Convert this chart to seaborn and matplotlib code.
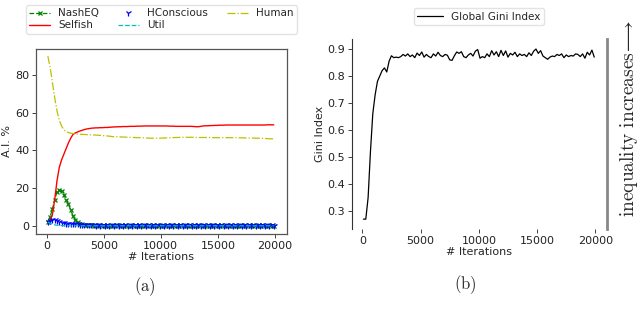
import numpy as np
import pandas as pd
import matplotlib
matplotlib.use("Agg")
import matplotlib.pyplot as plt
import seaborn as sns

sns.set_style("white")
plt.rcParams['font.family'] = ['DejaVu Sans']
plt.rcParams['mathtext.fontset'] = 'cm'

iterations = list(range(100, 20000, 200))

nash_eq = [2.3, 5, 9, 14, 18, 19, 18.5, 16.5, 14, 11.5,
           8.5, 5.5, 3.2, 2, 1.3, 1, 0.7, 0.5, 0.3, 0.3,
           0.2, 0.3, 0.2, 0.3, 0.2, 0.2, 0.3, 0.2, 0.2, 0.3,
           0.2, 0.3, 0.2, 0.2, 0.3, 0.2, 0.2, 0.3, 0.2, 0.2,
           0.3, 0.2, 0.2, 0.3, 0.2, 0.2, 0.3, 0.2, 0.2, 0.3,
           0.2, 0.2, 0.3, 0.2, 0.2, 0.3, 0.2, 0.2, 0.3, 0.2,
           0.2, 0.3, 0.2, 0.2, 0.3, 0.2, 0.2, 0.3, 0.2, 0.2,
           0.3, 0.2, 0.2, 0.3, 0.2, 0.2, 0.3, 0.2, 0.2, 0.3,
           0.2, 0.2, 0.3, 0.2, 0.2, 0.3, 0.2, 0.2, 0.3, 0.2,
           0.2, 0.3, 0.2, 0.2, 0.3, 0.2, 0.2, 0.3, 0.2, 0.2]

selfish = [2, 3, 6, 14, 24, 31, 35, 38, 41, 44,
           46.5, 48.5, 49.3, 49.8, 50.3, 50.7, 51.1, 51.4, 51.6, 51.8,
           51.9, 52.0, 52.0, 52.1, 52.1, 52.2, 52.2, 52.3, 52.4, 52.5,
           52.5, 52.6, 52.6, 52.7, 52.7, 52.7, 52.8, 52.8, 52.8, 52.9,
           52.9, 52.9, 53.0, 53.0, 53.0, 53.0, 53.0, 53.0, 53.0, 53.0,
           53.0, 53.0, 53.0, 52.9, 52.9, 52.9, 52.8, 52.8, 52.8, 52.8,
           52.8, 52.8, 52.8, 52.8, 52.7, 52.6, 52.6, 52.8, 53.0, 53.1,
           53.1, 53.2, 53.2, 53.3, 53.3, 53.4, 53.4, 53.4, 53.5, 53.5,
           53.5, 53.5, 53.5, 53.5, 53.5, 53.5, 53.5, 53.5, 53.5, 53.5,
           53.5, 53.5, 53.5, 53.5, 53.5, 53.5, 53.6, 53.6, 53.6, 53.6]

h_conscious = [2, 2.8, 3.4, 3.2, 2.6, 2.1, 1.7, 1.5, 1.3, 1.2,
               1.1, 1.0, 0.9, 0.8, 0.7, 0.6, 0.5, 0.4, 0.3, 0.3,
               0.3, 0.2, 0.3, 0.2, 0.3, 0.2, 0.3, 0.2, 0.3, 0.2,
               0.3, 0.2, 0.3, 0.2, 0.3, 0.2, 0.3, 0.2, 0.3, 0.2,
               0.3, 0.2, 0.3, 0.2, 0.3, 0.2, 0.3, 0.2, 0.3, 0.2,
               0.3, 0.2, 0.3, 0.2, 0.3, 0.2, 0.3, 0.2, 0.3, 0.2,
               0.3, 0.2, 0.3, 0.2, 0.3, 0.2, 0.3, 0.2, 0.3, 0.2,
               0.3, 0.2, 0.3, 0.2, 0.3, 0.2, 0.3, 0.2, 0.3, 0.2,
               0.3, 0.2, 0.3, 0.2, 0.3, 0.2, 0.3, 0.2, 0.3, 0.2,
               0.3, 0.2, 0.3, 0.2, 0.3, 0.2, 0.3, 0.2, 0.3, 0.2]

util = [2, 1.5, 0.9, 0.6, 0.4, 0.3, 0.2, 0.2, 0.2, 0.1,
        0.1, 0.1, 0.1, 0.1, 0.1, 0.1, 0.1, 0.1, 0.1, 0.1,
        0.1, 0.1, 0.1, 0.1, 0.1, 0.1, 0.1, 0.1, 0.1, 0.1,
        0.1, 0.1, 0.1, 0.1, 0.1, 0.1, 0.1, 0.1, 0.1, 0.1,
        0.1, 0.1, 0.1, 0.1, 0.1, 0.1, 0.1, 0.1, 0.1, 0.1,
        0.1, 0.1, 0.1, 0.1, 0.1, 0.1, 0.1, 0.1, 0.1, 0.1,
        0.1, 0.1, 0.1, 0.1, 0.1, 0.1, 0.1, 0.1, 0.1, 0.1,
        0.1, 0.1, 0.1, 0.1, 0.1, 0.1, 0.1, 0.1, 0.1, 0.1,
        0.1, 0.1, 0.1, 0.1, 0.1, 0.1, 0.1, 0.1, 0.1, 0.1,
        0.1, 0.1, 0.1, 0.1, 0.1, 0.1, 0.1, 0.1, 0.1, 0.1]

human = [90, 84, 76, 68, 61, 56, 53, 51, 50, 49.5,
         49.2, 49.0, 48.8, 48.7, 48.6, 48.5, 48.5, 48.4, 48.3, 48.3,
         48.2, 48.2, 48.1, 48.0, 47.9, 47.8, 47.7, 47.6, 47.4, 47.3,
         47.3, 47.2, 47.2, 47.1, 47.1, 47.0, 47.0, 46.9, 46.9, 46.8,
         46.8, 46.7, 46.7, 46.6, 46.6, 46.5, 46.5, 46.5, 46.5, 46.5,
         46.6, 46.6, 46.7, 46.7, 46.8, 46.8, 46.9, 46.9, 47.0, 47.0,
         47.0, 47.0, 47.0, 47.0, 47.0, 46.9, 46.9, 46.9, 46.9, 46.9,
         46.9, 46.9, 46.8, 46.8, 46.8, 46.8, 46.8, 46.8, 46.8, 46.8,
         46.8, 46.8, 46.8, 46.7, 46.7, 46.7, 46.7, 46.6, 46.6, 46.6,
         46.6, 46.5, 46.5, 46.5, 46.4, 46.4, 46.3, 46.2, 46.2, 46.1]

gini = [0.27, 0.27, 0.35, 0.52, 0.66, 0.73, 0.78, 0.80, 0.82, 0.83,
        0.815, 0.855, 0.875, 0.868, 0.87, 0.868, 0.872, 0.88, 0.874, 0.882,
        0.872, 0.878, 0.868, 0.885, 0.876, 0.889, 0.87, 0.88, 0.872, 0.868,
        0.882, 0.874, 0.888, 0.876, 0.872, 0.88, 0.877, 0.86, 0.858, 0.875,
        0.889, 0.884, 0.89, 0.872, 0.868, 0.878, 0.884, 0.874, 0.892, 0.898,
        0.866, 0.872, 0.868, 0.882, 0.872, 0.894, 0.878, 0.89, 0.872, 0.895,
        0.876, 0.893, 0.87, 0.884, 0.878, 0.888, 0.872, 0.882, 0.876, 0.88,
        0.872, 0.886, 0.876, 0.892, 0.9, 0.884, 0.894, 0.874, 0.868, 0.862,
        0.87, 0.874, 0.872, 0.88, 0.876, 0.882, 0.868, 0.878, 0.872, 0.876,
        0.874, 0.882, 0.88, 0.872, 0.882, 0.866, 0.888, 0.878, 0.896, 0.87]

for arr in (nash_eq, selfish, h_conscious, util, human, gini):
    assert len(arr) == len(iterations), len(arr)

fig = plt.figure(figsize=(6.4, 3.2), dpi=100)
ax1 = fig.add_axes([0.0563, 0.269, 0.392, 0.578])
ax2 = fig.add_axes([0.55, 0.284, 0.398, 0.594])

df = pd.DataFrame({"it": iterations, "NashEQ": nash_eq, "Selfish": selfish,
                   "HConscious": h_conscious, "Util": util, "Human": human,
                   "gini": gini})

sns.lineplot(data=df, x="it", y="NashEQ", ax=ax1, color="g", linestyle="--",
             linewidth=0.9, label="NashEQ")
l_nash = ax1.lines[-1]
l_nash.set_marker("x")
l_nash.set_markersize(3.5)
l_nash.set_markeredgewidth(0.9)
l_nash.set_markeredgecolor("g")

sns.lineplot(data=df, x="it", y="Selfish", ax=ax1, color="r", linewidth=1.0,
             label="Selfish")

sns.lineplot(data=df, x="it", y="HConscious", ax=ax1, color="b", linewidth=0.9,
             label="HConscious")
l_hc = ax1.lines[-1]
l_hc.set_linestyle("none")
l_hc.set_marker("1")
l_hc.set_markersize(4.5)
l_hc.set_markeredgewidth(0.9)
l_hc.set_markeredgecolor("b")

sns.lineplot(data=df, x="it", y="Util", ax=ax1, color="c", linestyle="--",
             linewidth=0.9, label="Util")
sns.lineplot(data=df, x="it", y="Human", ax=ax1, color="y", linestyle="-.",
             linewidth=0.9, label="Human")

ax1.set_xlim(-937, 21050)
ax1.set_ylim(-4.2, 93.8)
ax1.set_xticks([0, 5000, 10000, 15000, 20000])
ax1.set_yticks([0, 20, 40, 60, 80])
ax1.set_xlabel("# Iterations", fontsize=8, labelpad=1)
ax1.set_ylabel("A.I. %", fontsize=8, labelpad=2)
ax1.tick_params(labelsize=8, length=3, width=0.6, colors="#222222", pad=2)
ax1.tick_params(axis="both", direction="out", bottom=True, left=True)
for s in ax1.spines.values():
    s.set_color("#555555")
    s.set_linewidth(0.9)
handles, labels = ax1.get_legend_handles_labels()
ax1.get_legend().remove()
fig.legend(handles, labels, loc="upper center", bbox_to_anchor=(0.252, 1.0),
           ncol=3, fontsize=7.5, frameon=True, handlelength=2.0, columnspacing=1.8,
           borderpad=0.3, labelspacing=0.2, handletextpad=0.8,
           edgecolor="#dddddd")

sns.lineplot(data=df, x="it", y="gini", ax=ax2, color="black", linewidth=0.9,
             label="Global Gini Index")
ax2.set_xlim(-883, 20970)
ax2.set_ylim(0.233, 0.937)
ax2.set_xticks([0, 5000, 10000, 15000, 20000])
ax2.set_yticks([0.3, 0.4, 0.5, 0.6, 0.7, 0.8, 0.9])
ax2.set_xlabel("# Iterations", fontsize=8, labelpad=1)
ax2.set_ylabel("Gini Index", fontsize=8, labelpad=2)
ax2.tick_params(labelsize=8, length=3, width=0.6, colors="#222222", pad=2)
ax2.tick_params(axis="both", direction="out", bottom=True, left=True)
ax2.spines["top"].set_visible(False)
ax2.spines["bottom"].set_visible(False)
ax2.spines["left"].set_color("#333333")
ax2.spines["left"].set_linewidth(0.8)
ax2.spines["right"].set_color("#888888")
ax2.spines["right"].set_linewidth(2.0)
h2, l2 = ax2.get_legend_handles_labels()
ax2.get_legend().remove()
fig.legend(h2, l2, loc="upper center", bbox_to_anchor=(0.748, 0.99),
           fontsize=7.5, frameon=True, handlelength=2.5, borderpad=0.3,
           edgecolor="#dddddd")

fig.text(0.227, 0.103, r"$\mathrm{(a)}$", ha="center", va="center", fontsize=12)
fig.text(0.727, 0.109, r"$\mathrm{(b)}$", ha="center", va="center", fontsize=12)
fig.text(0.983, 0.63, r"$\mathrm{inequality\ increases}\!\longrightarrow$",
         rotation=90, ha="center", va="center", fontsize=14)

fig.savefig("out.png", dpi=100)
